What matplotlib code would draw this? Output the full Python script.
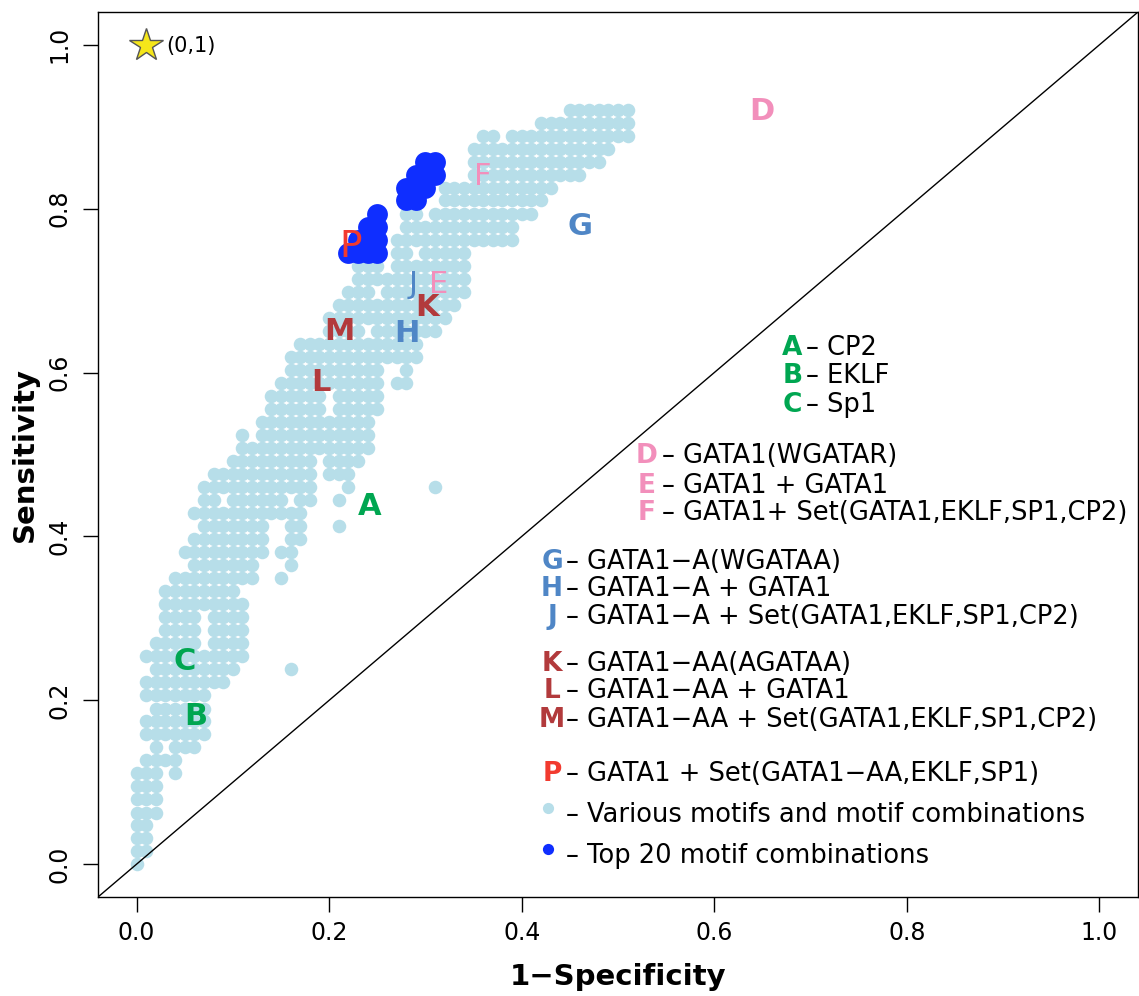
import matplotlib
matplotlib.use("Agg")
import matplotlib.pyplot as plt

# ---------------- data ----------------
# light-blue cloud: one entry per sensitivity level, with the 1-specificity
# values of that row given in hundredths as runs ("a-b" = a..b, "c" = single)
cloud_sens = [0.000, 0.016, 0.032, 0.048, 0.063, 0.079, 0.095, 0.111, 0.127, 0.143,
              0.159, 0.175, 0.190, 0.206, 0.222, 0.238, 0.254, 0.270, 0.286, 0.302,
              0.317, 0.333, 0.349, 0.365, 0.381, 0.397, 0.413, 0.429, 0.444, 0.460,
              0.476, 0.492, 0.508, 0.524, 0.540, 0.556, 0.571, 0.587, 0.603, 0.619,
              0.635, 0.651, 0.667, 0.683, 0.698, 0.714, 0.730, 0.746, 0.762, 0.778,
              0.794, 0.810, 0.825, 0.841, 0.857, 0.873, 0.889, 0.905, 0.921]
cloud_fpr_runs = ["0", "0-1", "0-1", "0-1", "0-2", "0-2", "0-2", "0-2,4", "1-4", "2,4-6",
                  "1-7", "1-7", "2-7", "1-7", "1-9", "2-10,16", "1-11", "2-6,8-11", "3-6,8-11", "3-6,8-11",
                  "3-11", "3-10", "4-12,15", "6-12,16", "5-13,15-16", "6-13,16-17", "7-13,16-17,21", "6-17",
                  "7-8,10-15,17-18,21", "7-18,22,31",
                  "8-18,20-22", "10-18,20-23", "11-24", "11,13-24", "13-24", "14-19,21-25", "14-19,21-25",
                  "15-25,27-28", "16-25,28", "16-29",
                  "17-29", "20-23,25-31", "20-32", "21-33", "22-24,26-34", "23-34", "23-25,27-34",
                  "27-28,30-34", "27-39", "28-39",
                  "28-29,31-41", "32-42", "32-43", "31,35-46", "35-48", "35-49", "36-37,39-51", "42-51", "45-51"]

# top 20 motif combinations (dark blue)
top_fpr = [0.22, 0.23, 0.24, 0.24, 0.25, 0.24, 0.25, 0.25, 0.25, 0.23,
           0.28, 0.29, 0.29, 0.29, 0.30, 0.30, 0.31, 0.30, 0.28, 0.31]
top_sens = [0.746, 0.746, 0.746, 0.762, 0.762, 0.778, 0.778, 0.794, 0.746, 0.762,
            0.810, 0.810, 0.825, 0.841, 0.841, 0.857, 0.857, 0.825, 0.825, 0.841]

# labelled motif points
lab_letters = ["A", "B", "C", "D", "E", "F", "G", "H", "J", "K", "L", "M", "P"]
lab_fpr = [0.242, 0.062, 0.050, 0.649, 0.314, 0.360, 0.461, 0.281, 0.287, 0.302, 0.191, 0.211, 0.222]
lab_sens = [0.437, 0.180, 0.248, 0.919, 0.708, 0.839, 0.778, 0.648, 0.708, 0.680, 0.588, 0.650, 0.753]
lab_group = ["g", "g", "g", "p", "p", "p", "b", "b", "b", "r", "r", "r", "red"]
lab_bold = [True, True, True, True, False, False, True, True, False, True, True, True, False]

# legend entries
leg_letters = ["A", "B", "C", "D", "E", "F", "G", "H", "J", "K", "L", "M", "P"]
leg_texts = ["– CP2", "– EKLF", "– Sp1",
             "– GATA1(WGATAR)", "– GATA1 + GATA1", "– GATA1+ Set(GATA1,EKLF,SP1,CP2)",
             "– GATA1−A(WGATAA)", "– GATA1−A + GATA1", "– GATA1−A + Set(GATA1,EKLF,SP1,CP2)",
             "– GATA1−AA(AGATAA)", "– GATA1−AA + GATA1", "– GATA1−AA + Set(GATA1,EKLF,SP1,CP2)",
             "– GATA1 + Set(GATA1−AA,EKLF,SP1)"]
leg_y = [0.630, 0.596, 0.561, 0.498, 0.462, 0.429, 0.369, 0.336, 0.302, 0.244, 0.211, 0.176, 0.110]
leg_letter_x = [0.681, 0.681, 0.681, 0.530, 0.530, 0.530, 0.4315, 0.4315, 0.4315, 0.4315, 0.4315, 0.4315, 0.4315]
leg_text_x = [0.695, 0.695, 0.695, 0.5455, 0.5455, 0.5455, 0.446, 0.446, 0.446, 0.446, 0.446, 0.446, 0.446]

ticks = [0.0, 0.2, 0.4, 0.6, 0.8, 1.0]
tick_labels = ["0.0", "0.2", "0.4", "0.6", "0.8", "1.0"]

colors = {"g": "#00A651", "p": "#F28FBB", "b": "#4F86C6", "r": "#B23A3C", "red": "#F23A2F"}
LIGHT = "#B7DEE9"
DARK = "#0F2EFF"


def parse_runs(s):
    vals = []
    for part in s.split(","):
        if "-" in part:
            a, b = part.split("-")
            vals.extend(range(int(a), int(b) + 1))
        else:
            vals.append(int(part))
    return [v / 100 for v in vals]


cloud_x, cloud_y = [], []
for sv, runs in zip(cloud_sens, cloud_fpr_runs):
    xs = parse_runs(runs)
    cloud_x.extend(xs)
    cloud_y.extend([sv] * len(xs))

# ---------------- figure ----------------
plt.rcParams["font.family"] = ["DejaVu Sans"]
fig = plt.figure(figsize=(11.39, 9.96), dpi=100)
ax = fig.add_axes([98 / 1139, (996 - 897) / 996, (1138 - 98) / 1139, (897 - 12) / 996])
ax.set_xlim(-0.04, 1.04)
ax.set_ylim(-0.04, 1.04)

ax.scatter(cloud_x, cloud_y, s=95, color=LIGHT, linewidths=0, zorder=2)
ax.scatter(top_fpr, top_sens, s=225, color=DARK, linewidths=0, zorder=3)
ax.axline((0, 0), (1, 1), color="black", lw=1.0, zorder=2.5)

for L, x, y, g, b in zip(lab_letters, lab_fpr, lab_sens, lab_group, lab_bold):
    size = 27 if L == "P" else 22
    ax.text(x, y, L, color=colors[g], fontsize=size, fontweight="bold" if b else "normal",
            ha="center", va="center", zorder=5)

# star at (0,1)
ax.plot([0.01], [1.0], marker="*", markersize=25, markerfacecolor="#F5E61A",
        markeredgecolor="#555555", markeredgewidth=1.0, zorder=5)
ax.text(0.031, 0.998, "(0,1)", fontsize=15, ha="left", va="center", zorder=5)

# legend block
for L, g, x, tx, y, t in zip(leg_letters, lab_group, leg_letter_x, leg_text_x, leg_y, leg_texts):
    ax.text(x, y, L, color=colors[g], fontsize=19, fontweight="bold", ha="center", va="center", zorder=5)
    ax.text(tx, y, t, color="black", fontsize=18.5, ha="left", va="center", zorder=5)

ax.scatter([0.427], [0.0685], s=65, color=LIGHT, linewidths=0, zorder=5)
ax.text(0.446, 0.060, "– Various motifs and motif combinations", fontsize=18.5, ha="left", va="center")
ax.scatter([0.427], [0.018], s=65, color=DARK, linewidths=0, zorder=5)
ax.text(0.446, 0.010, "– Top 20 motif combinations", fontsize=18.5, ha="left", va="center")

ax.set_xticks(ticks)
ax.set_xticklabels(tick_labels)
ax.set_yticks(ticks)
ax.set_yticklabels(tick_labels, rotation=90, va="center")
ax.tick_params(axis="both", direction="out", length=11, width=1.0, labelsize=17, pad=6)
ax.tick_params(axis="y", pad=8)
for sp in ax.spines.values():
    sp.set_linewidth(1.0)

ax.set_xlabel("1−Specificity", fontsize=21, fontweight="bold", labelpad=13)
ax.set_ylabel("Sensitivity", fontsize=21, fontweight="bold", labelpad=6)

fig.savefig("out.png", dpi=100)
